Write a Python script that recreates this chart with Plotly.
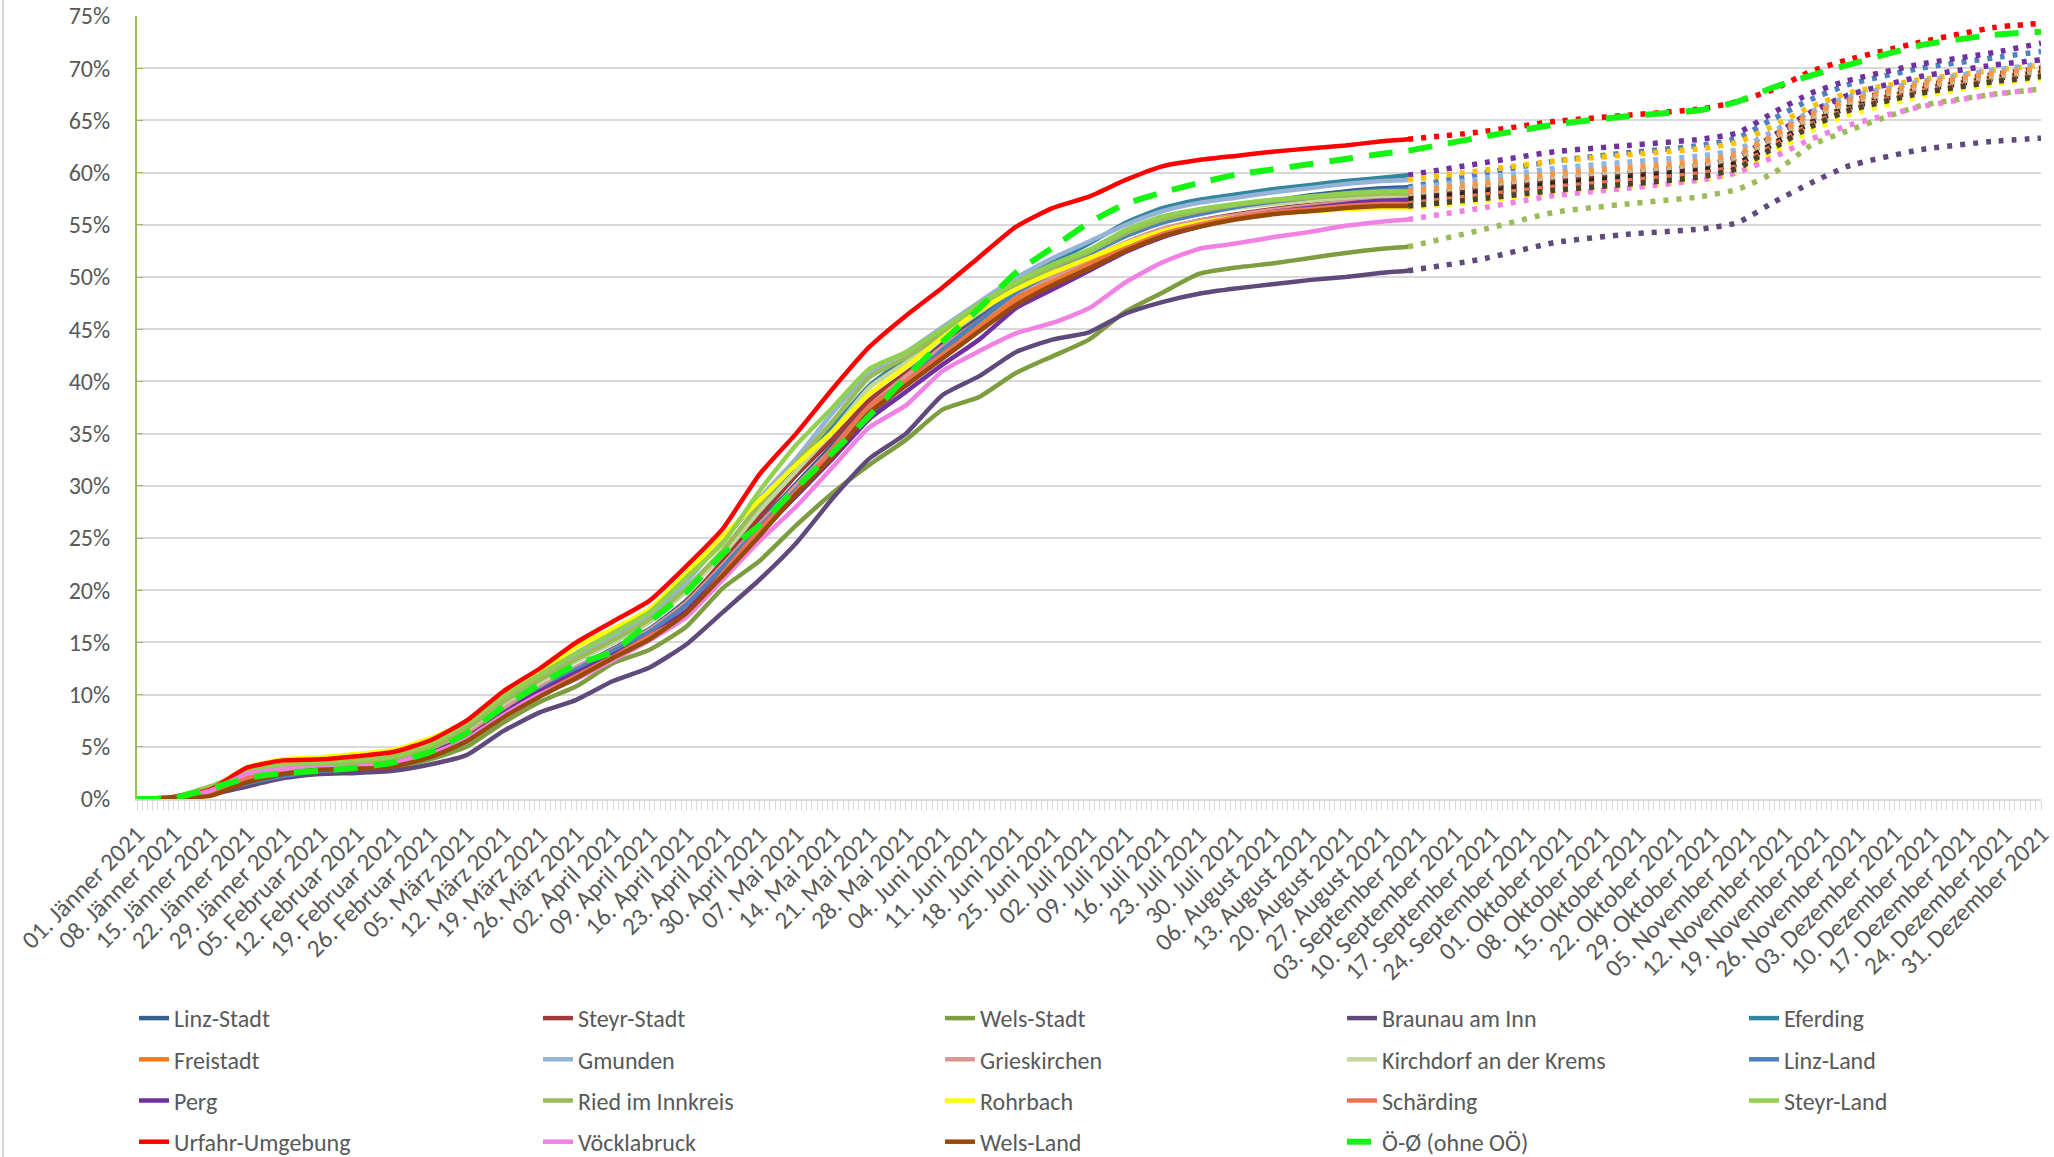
import pandas as pd
import plotly.graph_objects as go

# ---------------------------------------------------------------------------
# Durchimpfungsrate (Anteil mit mindestens einer Teilimpfung) je Bezirk, in %
# Werte bis 31. August gemessen, danach Fortschreibung bis Jahresende
# ---------------------------------------------------------------------------
START = pd.Timestamp("2021-01-01")

# Tage seit 1. Jänner für die gemessenen Werte (wöchentlich bis 31. August)
SOLID_DAYS = [0, 7, 14, 21, 28, 35, 42, 49, 56, 63, 70, 77, 84, 91, 98, 105, 112,
              119, 126, 133, 140, 147, 154, 161, 168, 175, 182, 189, 196, 203,
              210, 217, 224, 231, 238, 243]
# Tage seit 1. Jänner für die Fortschreibung (1. September bis 31. Dezember)
PROJ_DAYS = [243, 257, 271, 285, 299, 306, 313, 320, 327, 341, 355, 364]

linz_stadt = [0, 0.1, 0.5, 1.6, 2.3, 2.8, 3.0, 3.4, 4.3, 5.9, 8.4, 10.6, 12.6, 14.4, 16.3, 19.0, 22.6,
              26.5, 30.2, 33.9, 37.8, 40.6, 43.6, 46.2, 48.8, 50.6, 52.4, 54.0, 55.3, 56.2,
              56.8, 57.3, 57.8, 58.2, 58.5, 58.6]
steyr_stadt = [0, 0.1, 0.7, 2.2, 2.8, 3.0, 3.2, 3.6, 4.5, 6.1, 8.5, 10.6, 12.5, 14.2, 16.1, 18.9, 22.8,
               27.0, 31.0, 34.5, 38.2, 40.8, 43.4, 45.9, 48.3, 50.0, 51.6, 53.2, 54.5, 55.4,
               56.0, 56.5, 56.9, 57.3, 57.5, 57.6]
wels_stadt = [0, 0.1, 0.6, 1.8, 2.4, 2.6, 2.7, 3.0, 3.8, 5.0, 7.3, 9.3, 10.8, 13.0, 14.3, 16.5, 20.2,
              22.8, 26.2, 29.3, 32.0, 34.4, 37.3, 38.5, 40.8, 42.4, 44.0, 46.7, 48.5, 50.3,
              50.9, 51.3, 51.8, 52.3, 52.7, 52.9]
braunau = [0, 0, 0.4, 1.2, 2.0, 2.4, 2.5, 2.7, 3.3, 4.2, 6.5, 8.3, 9.5, 11.3, 12.6, 14.8, 17.9,
           21.0, 24.5, 28.8, 32.6, 35.0, 38.7, 40.5, 42.8, 44.0, 44.7, 46.5, 47.6, 48.4,
           48.9, 49.3, 49.7, 50.0, 50.4, 50.6]
eferding = [0, 0.1, 0.9, 2.4, 3.0, 3.2, 3.4, 3.8, 4.8, 6.6, 9.1, 11.3, 13.3, 15.0, 17.0, 20.0, 23.6,
            27.6, 31.6, 35.6, 39.6, 42.2, 44.6, 47.0, 49.4, 51.4, 53.2, 55.2, 56.6, 57.4,
            57.9, 58.4, 58.8, 59.2, 59.5, 59.75]
freistadt = [0, 0.1, 0.7, 2.2, 2.8, 3.0, 3.2, 3.6, 4.5, 6.1, 8.5, 10.6, 12.5, 14.2, 16.0, 18.6, 22.2,
             26.0, 29.6, 33.4, 37.4, 40.2, 42.8, 45.3, 47.9, 49.6, 51.3, 53.0, 54.4, 55.3,
             55.9, 56.4, 56.7, 57.0, 57.1, 57.2]
gmunden = [0, 0.2, 1.0, 2.6, 3.2, 3.4, 3.6, 4.0, 5.0, 6.9, 9.4, 11.6, 13.8, 15.5, 17.5, 20.8, 24.8,
           28.8, 32.6, 37.0, 40.8, 42.8, 45.2, 47.6, 49.9, 51.8, 53.4, 55.0, 56.3, 57.1,
           57.6, 58.1, 58.5, 58.9, 59.2, 59.3]
grieskirchen = [0, 0.1, 0.8, 2.3, 2.9, 3.1, 3.3, 3.7, 4.6, 6.2, 8.6, 10.7, 12.6, 14.3, 16.2, 18.8, 22.4,
                26.3, 30.0, 33.6, 37.6, 40.5, 43.3, 45.8, 48.4, 50.0, 51.7, 53.3, 54.6, 55.4,
                55.9, 56.4, 56.8, 57.2, 57.5, 57.7]
kirchdorf = [0, 0.2, 1.0, 2.5, 3.1, 3.3, 3.5, 3.9, 4.8, 6.6, 9.1, 11.2, 13.2, 15.0, 17.0, 19.9, 23.4,
             27.6, 31.4, 35.2, 39.4, 41.8, 44.2, 46.6, 49.0, 50.7, 52.2, 53.9, 55.2, 56.0,
             56.6, 57.0, 57.3, 57.6, 57.8, 57.8]
linz_land = [0, 0.1, 0.5, 1.5, 2.2, 2.7, 2.9, 3.3, 4.2, 5.8, 8.2, 10.4, 12.4, 14.2, 16.0, 18.6, 22.2,
             26.0, 29.6, 33.0, 36.6, 39.8, 43.0, 45.8, 48.5, 50.4, 52.2, 53.9, 55.2, 56.0,
             56.7, 57.2, 57.6, 58.0, 58.3, 58.4]
perg = [0, 0.1, 0.6, 2.0, 2.6, 2.9, 3.1, 3.5, 4.4, 5.9, 8.2, 10.3, 12.1, 13.8, 15.6, 18.0, 21.6,
        25.4, 29.0, 32.6, 36.4, 39.0, 41.6, 44.0, 47.0, 48.8, 50.6, 52.4, 53.8, 54.8,
        55.6, 56.2, 56.6, 57.0, 57.3, 57.4]
ried = [0, 0.2, 1.2, 2.6, 3.1, 3.3, 3.5, 3.9, 4.8, 6.7, 9.3, 11.4, 13.4, 15.2, 17.2, 20.2, 23.8,
        28.2, 32.2, 36.2, 40.4, 42.3, 44.5, 46.9, 49.2, 50.9, 52.4, 54.2, 55.5, 56.3,
        56.9, 57.3, 57.6, 57.8, 58.0, 58.0]
rohrbach = [0, 0.2, 1.0, 3.0, 3.8, 4.0, 4.3, 4.7, 5.8, 7.4, 10.0, 12.2, 14.6, 16.3, 18.2, 21.6, 25.2,
            28.6, 32.0, 35.2, 38.8, 41.4, 44.2, 46.8, 48.8, 50.4, 51.8, 53.2, 54.4, 55.2,
            55.7, 56.1, 56.3, 56.5, 56.6, 56.6]
schaerding = [0, 0.1, 0.6, 2.0, 2.6, 2.8, 3.0, 3.4, 4.2, 5.8, 8.0, 10.0, 11.8, 13.6, 15.6, 17.6, 21.6,
              25.8, 29.4, 33.6, 37.6, 40.0, 42.6, 45.0, 47.6, 49.3, 51.0, 52.7, 54.1, 55.0,
              55.7, 56.2, 56.5, 56.8, 57.0, 57.0]
steyr_land = [0, 0.2, 1.1, 2.7, 3.3, 3.5, 3.7, 4.1, 5.2, 7.2, 9.8, 11.9, 14.0, 15.9, 17.9, 21.2, 24.5,
              29.5, 33.9, 37.5, 41.2, 42.8, 45.0, 47.4, 49.5, 51.2, 52.6, 54.5, 55.8, 56.5,
              57.0, 57.4, 57.7, 58.0, 58.2, 58.2]
urfahr = [0, 0.2, 0.9, 3.0, 3.7, 3.8, 4.1, 4.5, 5.6, 7.5, 10.3, 12.5, 15.0, 17.0, 19.0, 22.3, 25.9,
          31.1, 35.0, 39.3, 43.3, 46.3, 49.0, 51.9, 54.8, 56.6, 57.7, 59.3, 60.6, 61.2,
          61.6, 62.0, 62.3, 62.6, 63.0, 63.2]
voecklabruck = [0, 0.1, 0.8, 2.4, 2.9, 3.0, 3.1, 3.5, 4.3, 5.7, 8.0, 10.0, 11.5, 13.3, 15.2, 17.4, 21.0,
                24.7, 28.0, 31.8, 35.6, 37.7, 41.0, 42.9, 44.6, 45.6, 47.0, 49.5, 51.4, 52.7,
                53.2, 53.8, 54.3, 54.9, 55.3, 55.5]
wels_land = [0, 0.1, 0.3, 1.6, 2.4, 2.8, 2.9, 3.1, 4.0, 5.5, 7.8, 9.8, 11.6, 13.5, 15.3, 17.8, 21.4,
             25.2, 29.2, 32.8, 37.0, 39.6, 42.2, 44.8, 47.3, 49.2, 50.8, 52.5, 53.9, 54.8,
             55.5, 56.0, 56.3, 56.6, 56.8, 56.8]

# Fortschreibung September bis Dezember
linz_stadt_proj = [58.6, 59.9, 61.1, 61.9, 62.6, 63.3, 65.2, 67.0, 68.4, 70.0, 71.0, 71.6]
steyr_stadt_proj = [57.6, 58.4, 59.3, 59.9, 60.6, 61.4, 63.6, 65.8, 67.4, 69.2, 70.3, 70.8]
wels_stadt_proj = [52.9, 54.5, 56.2, 57.0, 57.7, 58.4, 60.0, 62.6, 64.0, 66.4, 67.5, 68.0]
braunau_proj = [50.6, 51.7, 53.3, 54.1, 54.6, 55.2, 57.2, 59.0, 60.6, 62.2, 63.0, 63.3]
eferding_proj = [59.75, 60.9, 62.0, 62.6, 63.2, 63.8, 65.8, 67.6, 68.8, 70.4, 71.5, 72.4]
freistadt_proj = [57.2, 58.0, 58.8, 59.4, 60.1, 60.8, 62.8, 64.8, 66.3, 68.0, 69.1, 69.6]
gmunden_proj = [59.3, 60.2, 61.1, 61.7, 62.3, 62.9, 64.5, 66.3, 67.6, 68.9, 69.8, 70.3]
grieskirchen_proj = [57.7, 58.5, 59.3, 59.9, 60.6, 61.3, 63.2, 65.1, 66.5, 68.1, 69.2, 69.8]
kirchdorf_proj = [57.8, 58.6, 59.4, 60.0, 60.7, 61.5, 63.5, 65.4, 66.8, 68.3, 69.4, 70.0]
linz_land_proj = [58.4, 59.4, 60.4, 61.0, 61.6, 62.2, 64.0, 65.8, 67.2, 68.7, 69.8, 70.4]
perg_proj = [57.4, 58.1, 58.9, 59.5, 60.2, 60.9, 62.8, 64.8, 66.2, 67.9, 69.0, 69.5]
ried_proj = [58.0, 58.8, 59.6, 60.2, 60.8, 61.5, 63.4, 65.3, 66.7, 68.2, 69.2, 69.7]
rohrbach_proj = [56.6, 57.3, 58.1, 58.7, 59.3, 60.0, 62.0, 64.0, 65.5, 67.3, 68.5, 69.0]
schaerding_proj = [57.0, 57.8, 58.6, 59.2, 59.9, 60.6, 62.6, 64.6, 66.0, 67.8, 68.8, 69.3]
steyr_land_proj = [58.2, 59.0, 59.9, 60.5, 61.1, 61.8, 63.6, 65.6, 66.9, 68.5, 69.5, 70.0]
urfahr_proj = [63.2, 63.9, 64.9, 65.5, 66.1, 66.8, 68.0, 69.7, 70.8, 72.5, 73.9, 74.3]
voecklabruck_proj = [55.5, 56.6, 57.8, 58.5, 59.3, 60.0, 61.5, 63.2, 64.5, 66.3, 67.5, 68.0]
wels_land_proj = [56.8, 57.5, 58.3, 58.9, 59.6, 60.4, 62.4, 64.4, 65.9, 67.6, 68.7, 69.2]

# Österreich-Durchschnitt ohne Oberösterreich, ganzes Jahr
OE_DAYS = SOLID_DAYS + PROJ_DAYS[1:]
oe_avg = [0, 0.1, 1.0, 2.0, 2.5, 2.7, 3.0, 3.5, 4.5, 6.3, 8.8, 11.0, 12.9, 14.1, 17.0, 19.8, 23.5,
          26.2, 29.8, 33.2, 36.7, 40.4, 43.8, 47.0, 50.4, 52.8, 55.2, 57.0, 58.1, 59.0,
          59.8, 60.3, 60.8, 61.3, 61.8, 62.1,
          63.4, 64.6, 65.4, 66.0, 66.8, 68.2, 69.3, 70.3, 72.2, 73.2, 73.5]

# Achsenbeschriftung
MONTHS_DE = ["Jänner", "Februar", "März", "April", "Mai", "Juni", "Juli", "August",
             "September", "Oktober", "November", "Dezember"]
TICK_DATES = pd.date_range("2021-01-01", "2021-12-31", freq="7D")
TICK_LABELS = [f"{d.day:02d}. {MONTHS_DE[d.month - 1]} {d.year}" for d in TICK_DATES]
Y_TICKS = list(range(0, 80, 5))

# Name, Werte, Fortschreibung, Linienfarbe, Farbe der Fortschreibung
DISTRICTS = [
    ("Linz-Stadt", linz_stadt, linz_stadt_proj, "#376092", "#4F81BD"),
    ("Steyr-Stadt", steyr_stadt, steyr_stadt_proj, "#A0393A", "#7030A0"),
    ("Wels-Stadt", wels_stadt, wels_stadt_proj, "#7E9C40", "#9BBB59"),
    ("Braunau am Inn", braunau, braunau_proj, "#604A7B", "#604A7B"),
    ("Eferding", eferding, eferding_proj, "#31859C", "#7030A0"),
    ("Freistadt", freistadt, freistadt_proj, "#F47A1F", "#E46C0A"),
    ("Gmunden", gmunden, gmunden_proj, "#95B3D7", "#FFC000"),
    ("Grieskirchen", grieskirchen, grieskirchen_proj, "#D99694", "#F79646"),
    ("Kirchdorf an der Krems", kirchdorf, kirchdorf_proj, "#C3D69B", "#772C2A"),
    ("Linz-Land", linz_land, linz_land_proj, "#4F81BD", "#8DB4E2"),
    ("Perg", perg, perg_proj, "#7030A0", "#262626"),
    ("Ried im Innkreis", ried, ried_proj, "#9BBB59", "#C4BD97"),
    ("Rohrbach", rohrbach, rohrbach_proj, "#FFFF00", "#FFFF00"),
    ("Schärding", schaerding, schaerding_proj, "#EC7451", "#EC7451"),
    ("Steyr-Land", steyr_land, steyr_land_proj, "#92D050", "#F79646"),
    ("Urfahr-Umgebung", urfahr, urfahr_proj, "#FF0000", "#FF0000"),
    ("Vöcklabruck", voecklabruck, voecklabruck_proj, "#F281E4", "#F281E4"),
    ("Wels-Land", wels_land, wels_land_proj, "#984807", "#4A452A"),
]


def to_dates(days):
    return [START + pd.Timedelta(days=d) for d in days]


FONT = "Carlito, 'Liberation Sans Narrow', 'Open Sans', sans-serif"
TEXT_COLOR = "#595959"
GRID = "#D9D9D9"

W, H = 2054, 1157
ML, MR, MT, MB = 137, 13, 16, 358
plot_h = H - MT - MB
plot_w = W - ML - MR


def paper_y(px):
    return 1 - (px - MT) / plot_h


def paper_x(px):
    return (px - ML) / plot_w


# Legende: fünf Spalten (je eine eigene Legende) mit vier Einträgen
LEGEND_COLS = ["legend", "legend2", "legend3", "legend4", "legend5"]
LEGEND_COL_X = [134, 538, 940, 1342, 1744]
LEGEND_TOP = 996

fig = go.Figure()

# Fortschreibungen (gepunktet) zuerst, damit die gemessenen Linien darüber liegen
for name, vals, proj, col, pcol in DISTRICTS:
    fig.add_trace(go.Scatter(
        x=to_dates(PROJ_DAYS), y=proj, mode="lines", showlegend=False,
        line=dict(color=pcol, width=5.5, dash="5px,8px", shape="spline", smoothing=0.5),
        hoverinfo="skip"))

for i, (name, vals, proj, col, pcol) in enumerate(DISTRICTS):
    fig.add_trace(go.Scatter(
        x=to_dates(SOLID_DAYS), y=vals, mode="lines", name=name,
        legend=LEGEND_COLS[i % 5], legendgroup=name,
        line=dict(color=col, width=4.5, shape="spline", smoothing=0.5)))

fig.add_trace(go.Scatter(
    x=to_dates(OE_DAYS), y=oe_avg, mode="lines", name="Ö-Ø (ohne OÖ)",
    legend=LEGEND_COLS[len(DISTRICTS) % 5], legendgroup="oe",
    line=dict(color="#14F514", width=6, dash="24px,16px", shape="spline", smoothing=0.5)))

legend_common = dict(orientation="v", xanchor="left", yanchor="top",
                     y=paper_y(LEGEND_TOP), tracegroupgap=7,
                     font=dict(family=FONT, size=24, color=TEXT_COLOR),
                     bgcolor="rgba(0,0,0,0)", borderwidth=0)
legend_layout = {key: dict(x=paper_x(px), **legend_common)
                 for key, px in zip(LEGEND_COLS, LEGEND_COL_X)}

fig.update_layout(
    width=W, height=H,
    margin=dict(l=ML, r=MR, t=MT, b=MB, pad=0, autoexpand=False),
    paper_bgcolor="white", plot_bgcolor="white",
    font=dict(family=FONT, size=24, color=TEXT_COLOR),
    **legend_layout,
    xaxis=dict(
        type="date", range=[START, START + pd.Timedelta(days=364)],
        tickvals=list(TICK_DATES), ticktext=TICK_LABELS, tickangle=-45,
        tickfont=dict(family=FONT, size=25, color=TEXT_COLOR),
        ticklabeloverflow="allow",
        showgrid=False, zeroline=False,
        showline=True, linecolor=GRID, linewidth=2,
        ticks="outside", ticklen=9, tickcolor=GRID, tickwidth=1,
        minor=dict(dtick=86400000, ticks="outside", ticklen=9, tickcolor=GRID,
                   tickwidth=1, showgrid=False),
    ),
    yaxis=dict(
        range=[0, 75], tickvals=Y_TICKS, ticktext=[f"{v}%" for v in Y_TICKS],
        tickfont=dict(family=FONT, size=24, color=TEXT_COLOR),
        showgrid=True, gridcolor=GRID, gridwidth=2, zeroline=False,
        showline=True, linecolor="#9BBB59", linewidth=2,
        ticks="inside", ticklen=6, tickcolor="#9BBB59", ticklabelstandoff=20,
    ),
    shapes=[dict(type="line", xref="paper", yref="paper",
                 x0=paper_x(3), x1=paper_x(3), y0=paper_y(H), y1=paper_y(0),
                 line=dict(color=GRID, width=2))],
)

fig.write_html("out.html")
